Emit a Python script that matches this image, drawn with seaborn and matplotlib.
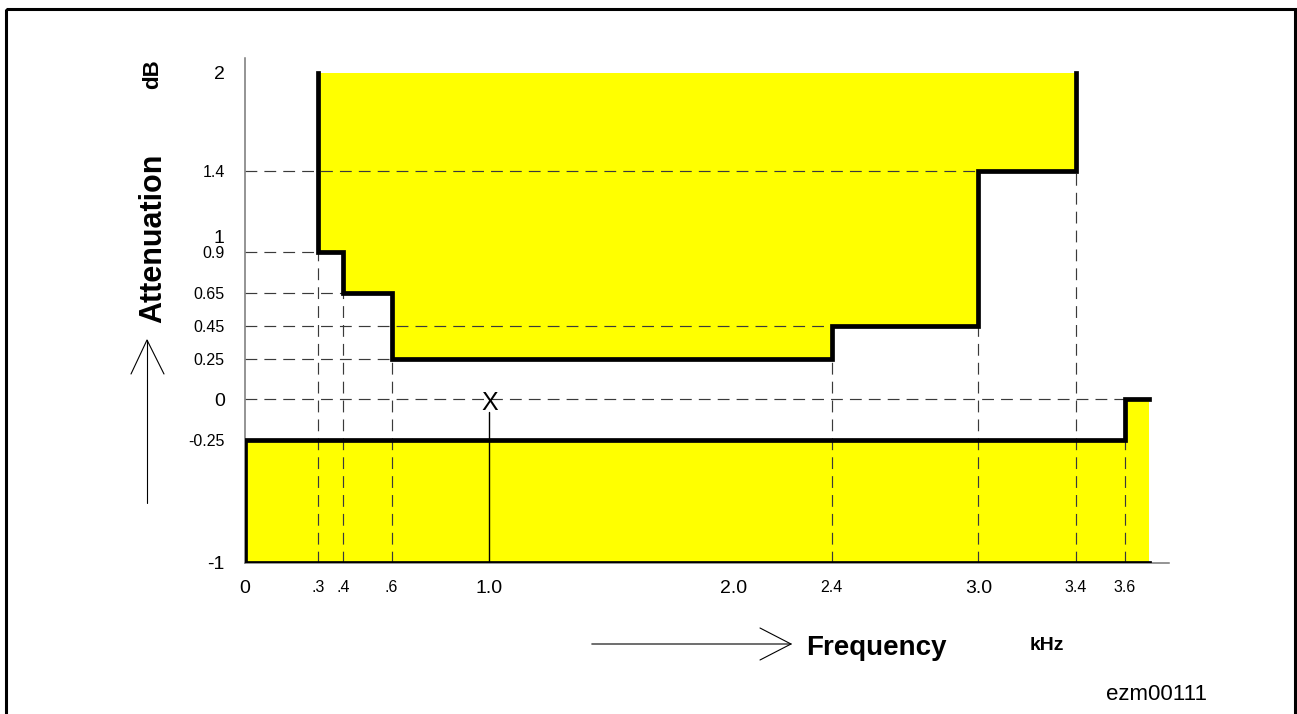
import numpy as np
import pandas as pd
import matplotlib.pyplot as plt
import seaborn as sns
from matplotlib.patches import Rectangle

# attenuation mask (kHz / dB)
upper_freq = [0.3, 0.4, 0.6, 2.4, 3.0, 3.4]
upper_db = [0.9, 0.65, 0.25, 0.45, 1.4]
lower_freq = [0.0, 3.6, 3.7]
lower_db = [-0.25, 0.0]
db_top, db_bottom = 2.0, -1.0
marker_freq = 1.0

x_ticks = [0, 0.3, 0.4, 0.6, 1.0, 2.0, 2.4, 3.0, 3.4, 3.6]
x_labels = ['0', '.3', '.4', '.6', '1.0', '2.0', '2.4', '3.0', '3.4', '3.6']
y_ticks = [2, 1.4, 1, 0.9, 0.65, 0.45, 0.25, 0, -0.25, -1]
y_labels = ['2', '1.4', '1', '0.9', '0.65', '0.45', '0.25', '0', '-0.25', '-1']
big_labels = ['0', '1.0', '2.0', '3.0', '2', '1', '-1']


def step_outline(freq, levels):
    xs, ys = [], []
    for i, lv in enumerate(levels):
        xs += [freq[i], freq[i + 1]]
        ys += [lv, lv]
    return xs, ys


sns.set_style('white')
plt.rcParams['font.family'] = ['Liberation Sans', 'DejaVu Sans']
plt.rcParams['text.color'] = 'black'

W, H = 1297, 714
fig = plt.figure(figsize=(W / 100, H / 100), dpi=100)
ax = fig.add_axes([245 / W, 1 - 562.7 / H, (1169 - 245) / W, (562.7 - 58) / H])
ax.set_xlim(0, 3.78)
ax.set_ylim(-1, 2.09)

ux, uy = step_outline(upper_freq, upper_db)
ux = [upper_freq[0]] + ux + [upper_freq[-1]]
uy = [db_top] + uy + [db_top]
lx, ly = step_outline(lower_freq, lower_db)
lx = [lower_freq[0]] + lx
ly = [db_bottom] + ly

yellow = '#ffff00'
ax.fill_between(ux, uy, db_top, color=yellow, lw=0, zorder=1)
ax.fill_between(lx, ly, db_bottom, color=yellow, lw=0, zorder=1)

# dashed guide lines
guide = dict(color='#3a3a3a', lw=0.85, linestyle=(0, (10, 6)), zorder=2)
ext = [db_top] + upper_db + [db_top]
for i, f in enumerate(upper_freq):
    ax.plot([f, f], [db_bottom, min(ext[i], ext[i + 1])], **guide)
for j, lv in enumerate(upper_db):
    ax.plot([0, upper_freq[j + 1]], [lv, lv], **guide)
for i in range(1, len(lower_freq) - 1):
    ax.plot([lower_freq[i]] * 2, [db_bottom, min(lower_db[i - 1], lower_db[i])], **guide)
ax.plot([0, lower_freq[1]], [lower_db[1], lower_db[1]], **guide)

# mask outlines
thick = dict(color='black', lw=3.4, sort=False, estimator=None, ax=ax, zorder=4)
sns.lineplot(data=pd.DataFrame({'f': ux, 'db': uy}), x='f', y='db', **thick)
sns.lineplot(data=pd.DataFrame({'f': lx, 'db': ly}), x='f', y='db', **thick)
sns.lineplot(data=pd.DataFrame({'f': [lower_freq[0], lower_freq[-1]], 'db': [db_bottom] * 2}),
             x='f', y='db', **thick)
for l in ax.lines[-3:]:
    l.set_solid_joinstyle('miter')
    l.set_solid_capstyle('projecting')

# test point
ax.plot([marker_freq, marker_freq], [-0.078, db_bottom], color='black', lw=1, zorder=3)
ax.text(marker_freq, -0.02, 'X', fontsize=18, ha='center', va='center', zorder=5)

ax.set_xticks(x_ticks, x_labels)
ax.set_yticks(y_ticks, y_labels)
for t in ax.get_xticklabels() + ax.get_yticklabels():
    t.set_fontsize(14 if t.get_text() in big_labels else 11.5)
ax.tick_params(axis='both', length=6.5, width=0.9, color='#777777', labelcolor='black')
ax.tick_params(axis='x', pad=6)
ax.tick_params(axis='y', pad=8)
ax.set_xlabel('')
ax.set_ylabel('')
sns.despine(ax=ax)
for s in ['left', 'bottom']:
    ax.spines[s].set_color('#777777')
    ax.spines[s].set_linewidth(1.1)

# annotations in figure pixels
ov = fig.add_axes([0, 0, 1, 1])
ov.set_xlim(0, W)
ov.set_ylim(H, 0)
ov.axis('off')
ov.patch.set_alpha(0)

ov.text(153, 238, 'Attenuation', rotation=90, fontsize=22, fontweight='bold', ha='center', va='center')
ov.text(153, 74, 'dB', rotation=90, fontsize=16, fontweight='bold', ha='center', va='center')
ov.text(806, 648, 'Frequency', fontsize=20, fontweight='bold', ha='left', va='center')
ov.text(1030, 646, 'kHz', fontsize=14, fontweight='bold', ha='left', va='center')
ov.text(1106, 695, 'ezm00111', fontsize=16, ha='left', va='center')

arrow = dict(color='black', lw=0.8)
ov.plot([147, 147], [503, 340], **arrow)
ov.plot([131, 147, 164], [374, 340, 374], **arrow)
ov.plot([592, 791], [644, 644], color='#555555', lw=1.2)
ov.plot([760, 791, 760], [628, 644, 660], **arrow)

ov.add_patch(Rectangle((6, 9), 1289, 800, fill=False, lw=2.2, edgecolor='black', clip_on=False))

fig.savefig('out.png', dpi=100)
